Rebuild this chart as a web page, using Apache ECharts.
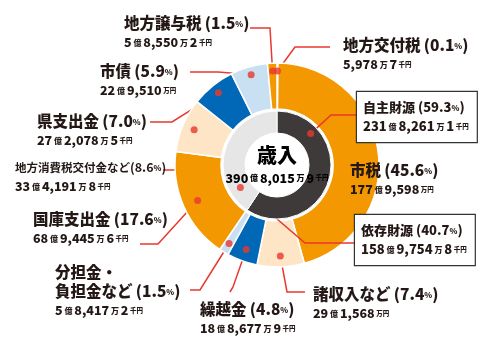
<!DOCTYPE html>
<html><head><meta charset="utf-8">
<script src="https://cdn.jsdelivr.net/npm/echarts@6/dist/echarts.min.js"></script>
<style>html,body{margin:0;padding:0;background:#fff}#c{width:500px;height:344px}</style>
</head><body><div id="c"></div>
<script>
// ---- data ----
const categories = ['地方交付税','市税','諸収入など','繰越金','分担金・負担金など','国庫支出金','地方消費税交付金など','県支出金','市債','地方譲与税'];
const amounts = [59787, 17795980, 2915680, 1886779, 584172, 6894456, 3341918, 2720785, 2295100, 585502]; // 千円
const percents = ['0.1','45.6','7.4','4.8','1.5','17.6','8.6','7.0','5.9','1.5'];
const sourceNames = ['自主財源','依存財源'];
const sourceAmounts = [23182611, 15897548]; // 千円
const sourcePercents = ['59.3','40.7'];
const centerTitle = '歳入';

// ---- styles / layout ----
const FONT = 'Noto Sans CJK JP';
const INK = '#231815';
const RED = '#e8382f';
const W = 900;
const outerColors = ['#f39800','#f39800','#fde5c6','#0068b7','#c9e0f3','#f39800','#fde5c6','#0068b7','#c9e0f3','#f39800'];
const innerColors = ['#3e3a39','#e6e6e6'];
const CX = 277, CY = 165, R_OUT = 102;
const outerLabelLayout = [
  {x:343, y:36, line:[[295,47],[330,47]], r:94, f:0.5},
  {x:350, y:161},
  {x:313, y:285, line:[[287,292],[305,292]], r:91, f:0.5},
  {x:200, y:300, line:[[233,287],[230,292]], r:90, f:0.5},
  {x:55, y:263, line:[[200,290],[190,290]], r:92, f:0.5},
  {x:33, y:210, line:[[158,244],[140,244]], r:87, f:0.5},
  {x:15, y:158, line:[[175,170],[163,170]], r:90, f:0.5},
  {x:37, y:112, line:[[172,122],[150,122]], r:93, f:0.5},
  {x:100, y:62, line:[[218,72],[190,72]], r:94, f:0.5},
  {x:124, y:14, line:[[270,28],[250,28]], r:94, f:0.5}
];
const innerLabelLayout = [
  {x:357, y:92, line:[[331,115],[357,115]], r:46, f:0.22},
  {x:355, y:215, line:[[305,243],[355,243]], r:43, f:0.17}
];

function fmt(n){ return n.toLocaleString('en-US'); }
function amountText(v, big){
  const oku = Math.floor(v/100000), man = Math.floor((v%100000)/10), sen = v%10;
  const d = big ? 'db' : 'd';
  let s = '';
  if (oku>0) s += '{'+d+'|'+oku+'}{u| 億 }';
  s += '{'+d+'|'+fmt(man)+'}';
  if (sen>0) s += '{u| 万 }{'+d+'|'+sen+'}{s| 千円}';
  else s += '{s| 万円}';
  return s;
}
function dotPoint(values, i, r, f){
  const total = values.reduce((a,b)=>a+b,0);
  let cum = 0; for (let k=0;k<i;k++) cum += values[k];
  const th = (cum + values[i]*f)/total*2*Math.PI;
  return [CX + r*Math.sin(th), CY - r*Math.cos(th)];
}
function dotAngle(values, i, f){
  let cum = 0; for (let k=0;k<i;k++) cum += values[k];
  return cum + values[i]*f;
}
const total = amounts.reduce((a,b)=>a+b,0);

const rich = {
  n:{fontFamily:FONT,fontSize:15.5,fontWeight:W,color:INK,lineHeight:19},
  ns:{fontFamily:FONT,fontSize:11.5,fontWeight:700,color:INK,lineHeight:19},
  p:{fontFamily:FONT,fontSize:15.5,fontWeight:W,color:INK,lineHeight:19},
  ps:{fontFamily:FONT,fontSize:12.5,fontWeight:700,color:INK,lineHeight:19},
  pc:{fontFamily:FONT,fontSize:8,fontWeight:W,color:INK,lineHeight:19},
  d:{fontFamily:FONT,fontSize:12.5,fontWeight:W,color:INK,lineHeight:19},
  db:{fontFamily:FONT,fontSize:13,fontWeight:W,color:INK,lineHeight:17},
  u:{fontFamily:FONT,fontSize:8,fontWeight:W,color:INK,lineHeight:19},
  s:{fontFamily:FONT,fontSize:6.5,fontWeight:W,color:INK,lineHeight:19},
  bn:{fontFamily:FONT,fontSize:13,fontWeight:W,color:INK,lineHeight:17},
  big:{fontFamily:FONT,fontSize:20,fontWeight:W,color:INK,lineHeight:26}
};

const outerData = categories.map((c,i)=>({
  name:c, value:amounts[i],
  itemStyle:{color:outerColors[i]},
  labelLine:{show: !!outerLabelLayout[i].line}
}));
const innerData = sourceNames.map((c,i)=>({name:c, value:sourceAmounts[i], itemStyle:{color:innerColors[i]}}));

const dots = [];
outerLabelLayout.forEach((L,i)=>{ if(L.line) dots.push([L.r, dotAngle(amounts,i,L.f)/total*100]); });
const srcTotal = sourceAmounts.reduce((a,b)=>a+b,0);
innerLabelLayout.forEach((L,i)=>{ dots.push([L.r, dotAngle(sourceAmounts,i,L.f)/srcTotal*100]); });

const chart = echarts.init(document.getElementById('c'), null, {renderer:'canvas'});
chart.setOption({
  backgroundColor:'#fff',
  animation:false,
  polar:{center:[CX,CY], radius:[0,R_OUT]},
  angleAxis:{type:'value', min:0, max:100, startAngle:90, clockwise:true, show:false},
  radiusAxis:{type:'value', min:0, max:R_OUT, show:false},
  series:[
    {
      type:'pie', center:[CX,CY], radius:[56,R_OUT], startAngle:90, clockwise:true,
      avoidLabelOverlap:false, silent:true,
      itemStyle:{borderColor:'#fff', borderWidth:1.5},
      label:{show:true, position:'outside', rich:rich, align:'left',
        formatter:function(p){
          const i=p.dataIndex;
          if (i===4) return '{n|分担金・}\n{n|負担金など} {p|(1.5}{pc|%}{p|)}\n'+amountText(amounts[i]);
          if (i===6) return '{ns|'+categories[i]+'}{ps|('+percents[i]+'}{pc|%}{ps|)}\n'+amountText(amounts[i]);
          return '{n|'+categories[i]+'} {p|('+percents[i]+'}{pc|%}{p|)}\n'+amountText(amounts[i]);
        }},
      labelLine:{show:true, lineStyle:{color:RED, width:1.5}},
      labelLayout:function(params){
        const i=params.dataIndex, L=outerLabelLayout[i];
        const res={x:L.x, y:L.y, align:'left', verticalAlign:'top'};
        if (L.line){ res.labelLinePoints=[dotPoint(amounts,i,L.r,L.f), L.line[0], L.line[1]]; }
        return res;
      },
      data:outerData, z:2
    },
    {
      type:'pie', center:[CX,CY], radius:[32,54], startAngle:90, clockwise:true,
      avoidLabelOverlap:false, silent:true,
      itemStyle:{borderColor:'#fff', borderWidth:1},
      label:{show:true, position:'outside', rich:rich, align:'left',
        backgroundColor:'#fff', borderColor:'#333', borderWidth:1.2, padding:[6,8,6,6],
        formatter:function(p){
          const i=p.dataIndex;
          return '{bn|'+sourceNames[i]+' ('+sourcePercents[i]+'}{pc|%}{bn|)}\n'+amountText(sourceAmounts[i],true);
        }},
      labelLine:{show:true, lineStyle:{color:RED, width:1.5}},
      labelLayout:function(params){
        const i=params.dataIndex, L=innerLabelLayout[i];
        return {x:L.x, y:L.y, align:'left', verticalAlign:'top',
          labelLinePoints:[dotPoint(sourceAmounts,i,L.r,L.f), L.line[0], L.line[1]]};
      },
      data:innerData, z:3
    },
    {
      type:'scatter', coordinateSystem:'polar', symbolSize:7, silent:true,
      itemStyle:{color:RED}, data:dots, z:10
    }
  ],
  graphic:[{
    type:'text', x:CX, y:CY, z:20,
    style:{text:'{big|'+centerTitle+'}\n'+amountText(total), rich:rich, align:'center', verticalAlign:'middle', textAlign:'center', textVerticalAlign:'middle'}
  }]
});
</script>
</body></html>
